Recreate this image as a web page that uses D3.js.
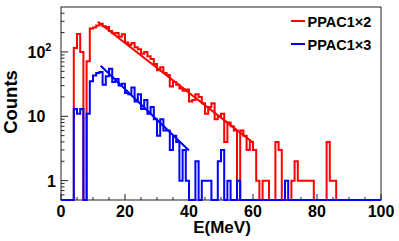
<!DOCTYPE html>
<html>
<head>
<meta charset="utf-8">
<script src="https://cdn.jsdelivr.net/npm/d3@7"></script>
<style>
body { margin: 0; background: white; }
svg { display: block; font-family: "Liberation Sans", Arial, Helvetica, sans-serif; font-weight: bold; }
</style>
</head>
<body>
<svg id="chart"></svg>
<script>
var width = 399,
    height = 241;

// 1 MeV bins from 0 to 100
var binWidth = 1;
var redCounts = [
	0, 0, 0, 0, 115, 190, 100, 0, 72, 232,
	240, 258, 275, 250, 245, 212, 195, 198, 172, 188,
	140, 128, 138, 118, 110, 94, 100, 86, 78, 65,
	52, 58, 47, 44, 29, 34, 31, 27, 25, 26,
	17, 18, 22, 20, 16, 11, 14, 16, 9, 10,
	11, 4, 8, 7, 6, 0, 6, 5, 3, 4,
	3, 1, 0, 1, 1, 0, 0, 4, 3, 0,
	0, 0, 1, 2, 1, 1, 1, 1, 1, 0,
	0, 0, 0, 4, 1, 1, 0, 0, 0, 0,
	0, 0, 0, 0, 0, 0, 0, 0, 0, 0
];
var blueCounts = [
	0, 0, 0, 0, 13, 11, 13, 0, 11, 35,
	43, 47, 49, 31, 42, 55, 34, 38, 30, 32,
	23, 22, 28, 17, 22, 13, 18, 11, 14, 9,
	5, 9, 6, 6, 3, 5, 4, 1, 3, 1,
	0, 0, 2, 0, 1, 1, 1, 0, 0, 2,
	3, 0, 1, 0, 0, 1, 0, 0, 0, 0,
	0, 0, 0, 0, 0, 0, 0, 0, 0, 0,
	1, 0, 0, 0, 0, 0, 0, 0, 0, 0,
	0, 0, 0, 0, 0, 0, 0, 0, 0, 0,
	0, 0, 0, 0, 0, 0, 0, 0, 0, 0
];

// exponential fits (straight on log scale): end points
var redFitE = [11.5, 60],
    redFitV = [295, 3.9];
var blueFitE = [12.4, 40],
    blueFitV = [61, 2.95];

var xTicks = [0, 20, 40, 60, 80, 100];
var yTicks = [1, 10, 100],
    yTickLabels = ['1', '10', '10^2'];
var legendNames = ['PPAC1\u00d72', 'PPAC1\u00d73'],
    legendColors = ['#ff0000', '#0000ff'];

var frame = {left: 61, right: 381, top: 7, bottom: 200};

var svg = d3.select('#chart').attr('width', width).attr('height', height);
svg.append('rect').attr('width', width).attr('height', height).attr('fill', 'white');

var x = d3.scaleLinear().domain([0, 100]).range([frame.left, frame.right]);
var y = d3.scaleLog().domain([0.5, 500]).range([frame.bottom, frame.top]);

function yv(v) { return v > 0.5 ? y(v) : frame.bottom; }

// frame
svg.append('rect')
  .attr('x', frame.left).attr('y', frame.top)
  .attr('width', frame.right - frame.left)
  .attr('height', frame.bottom - frame.top)
  .attr('fill', 'none')
  .attr('stroke', '#222')
  .attr('stroke-width', 1);

// x ticks (inside)
var xMinor = d3.range(0, 101, 5);
svg.selectAll('.xtick').data(xMinor).enter().append('line')
  .attr('class', 'xtick')
  .attr('x1', function(d){ return x(d); })
  .attr('x2', function(d){ return x(d); })
  .attr('y1', frame.bottom)
  .attr('y2', function(d){ return frame.bottom - (d % 20 == 0 ? 6 : 3); })
  .attr('stroke', '#222');

svg.selectAll('.xlabel').data(xTicks).enter().append('text')
  .attr('class', 'xlabel')
  .attr('x', function(d){ return x(d); })
  .attr('y', 216.5)
  .attr('text-anchor', 'middle')
  .attr('font-size', 16)
  .text(function(d){ return d; });

// y ticks (log)
var yMinor = [];
[0.1, 1, 10, 100].forEach(function(dec){
	for (var m = 2; m <= 9; m++) {
		var v = m * dec;
		if (v > 0.5 && v < 500) yMinor.push(v);
	}
});
svg.selectAll('.yminor').data(yMinor).enter().append('line')
  .attr('class', 'yminor')
  .attr('x1', frame.left).attr('x2', frame.left + 3.5)
  .attr('y1', function(d){ return y(d); })
  .attr('y2', function(d){ return y(d); })
  .attr('stroke', '#222');
svg.selectAll('.ymajor').data(yTicks).enter().append('line')
  .attr('class', 'ymajor')
  .attr('x1', frame.left).attr('x2', frame.left + 7)
  .attr('y1', function(d){ return y(d); })
  .attr('y2', function(d){ return y(d); })
  .attr('stroke', '#222');

yTicks.forEach(function(t, i){
	var lab = yTickLabels[i].split('^');
	var txt = svg.append('text')
	  .attr('y', y(t) + 6)
	  .attr('font-size', 16);
	if (lab[0] == '1') {
		txt.attr('x', 56).attr('text-anchor', 'end');
	} else {
		txt.attr('x', 27.5).attr('text-anchor', 'start');
	}
	txt.append('tspan').text(lab[0]);
	if (lab[1]) {
		txt.append('tspan').attr('font-size', 11).attr('dy', -7).text(lab[1]);
	}
});

// histograms
function histPath(counts) {
	var pts = [[x(0), frame.bottom]];
	counts.forEach(function(c, i){
		pts.push([x(i * binWidth), yv(c)]);
		pts.push([x((i + 1) * binWidth), yv(c)]);
	});
	pts.push([x(counts.length * binWidth), frame.bottom]);
	return d3.line()(pts);
}

function fitLine(es, vs) {
	return d3.line()(es.map(function(e, i){ return [x(e), y(vs[i])]; }));
}

var series = [
	{counts: redCounts, fitE: redFitE, fitV: redFitV},
	{counts: blueCounts, fitE: blueFitE, fitV: blueFitV}
];

series.forEach(function(s, i){
	svg.append('path')
	  .attr('d', histPath(s.counts))
	  .attr('fill', 'none')
	  .attr('stroke', legendColors[i])
	  .attr('stroke-width', 2);
	svg.append('path')
	  .attr('d', fitLine(s.fitE, s.fitV))
	  .attr('fill', 'none')
	  .attr('stroke', legendColors[i])
	  .attr('stroke-width', 2);
});

// legend
legendNames.forEach(function(name, i){
	var ly = 21 + i * 23;
	svg.append('line')
	  .attr('x1', 291).attr('x2', 305)
	  .attr('y1', ly).attr('y2', ly)
	  .attr('stroke', legendColors[i])
	  .attr('stroke-width', 2);
	svg.append('text')
	  .attr('x', 307.5).attr('y', ly + 6)
	  .attr('font-size', 14.5)
	  .text(name);
});

// axis titles
svg.append('text')
  .attr('x', 222).attr('y', 233)
  .attr('text-anchor', 'middle')
  .attr('font-size', 17)
  .text('E(MeV)');

svg.append('text')
  .attr('transform', 'translate(17, 102) rotate(-90)')
  .attr('text-anchor', 'middle')
  .attr('font-size', 18.5)
  .text('Counts');
</script>
</body>
</html>
